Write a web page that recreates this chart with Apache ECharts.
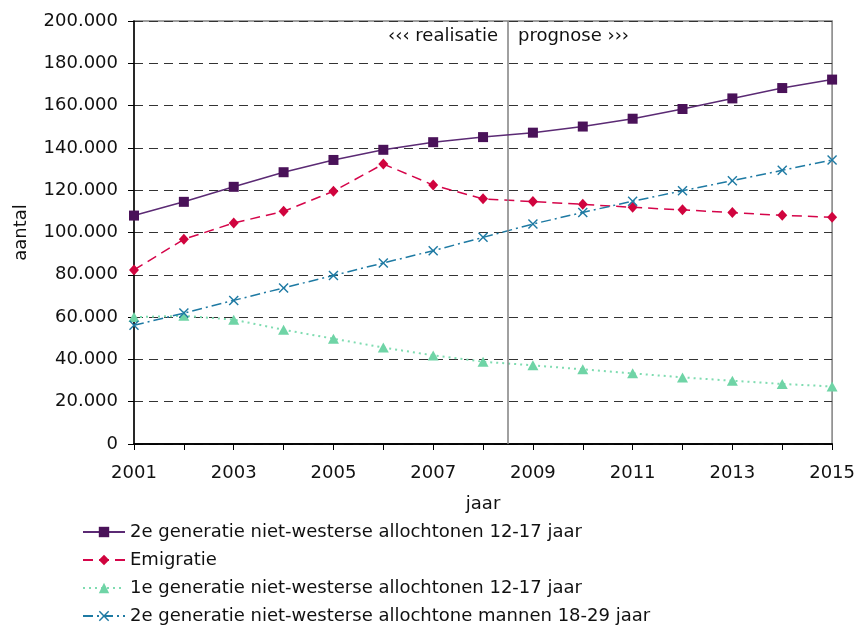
<!DOCTYPE html>
<html><head><meta charset="utf-8">
<script src="https://cdn.jsdelivr.net/npm/echarts@6/dist/echarts.min.js"></script>
<style>html,body{margin:0;padding:0;background:#fff}#c{width:858px;height:625px}</style>
</head><body><div id="c"></div>
<script>
const years = [2001,2002,2003,2004,2005,2006,2007,2008,2009,2010,2011,2012,2013,2014,2015];
const tweedeGen1217 = [108000,114500,121600,128500,134300,139100,142700,145100,147200,150100,153800,158400,163400,168300,172300];
const emigratie = [82300,96800,104500,110000,119500,132400,122400,115900,114600,113300,111900,110700,109400,108100,107200];
const eersteGen1217 = [60000,60600,58800,54000,49800,45600,41900,38900,37200,35300,33400,31500,29900,28400,27200];
const tweedeGenMannen = [56100,61900,67900,73800,79700,85600,91400,97700,104000,109500,114800,119700,124500,129400,134300];
const seriesNames = [
  '2e generatie niet-westerse allochtonen 12-17 jaar',
  'Emigratie',
  '1e generatie niet-westerse allochtonen 12-17 jaar',
  '2e generatie niet-westerse allochtone mannen 18-29 jaar'
];
const splitYear = 2008.5;
const noteLeft = '‹‹‹ realisatie';
const noteRight = 'prognose ›››';

const FONT = 'DejaVu Sans';
const pairs = arr => arr.map((v,i)=>[years[i], v]);
const fmt = v => v === 0 ? '0' : String(v).replace(/\B(?=(\d{3})+(?!\d))/g, '.');
const xSym = 'path://M0,1L1,0L5,4L9,0L10,1L6,5L10,9L9,10L5,6L1,10L0,9L4,5Z';

const chart = echarts.init(document.getElementById('c'), null, {renderer:'canvas'});
const option = {
  animation:false,
  textStyle:{fontFamily:FONT},
  grid:{left:134, right:24, top:21, bottom:181, show:true, borderColor:'#808080', borderWidth:1.5},
  legend:{
    orient:'vertical', left:82, top:523, height:102, padding:0,
    itemWidth:42, itemHeight:13, itemGap:10,
    textStyle:{fontFamily:FONT, fontSize:18, color:'#111'},
    data:seriesNames
  },
  xAxis:[{
    type:'value', min:2001, max:2015, interval:1,
    name:'jaar', nameLocation:'middle', nameGap:51,
    nameTextStyle:{fontFamily:FONT, fontSize:18, color:'#111'},
    axisLine:{show:true, onZero:false, lineStyle:{color:'#000', width:1.5}},
    axisTick:{show:true, length:6, lineStyle:{color:'#000'}},
    axisLabel:{margin:20, fontFamily:FONT, fontSize:18, color:'#111',
      formatter:v => ((v-2001)%2===0 ? String(v) : '')},
    splitLine:{show:false}
  },{
    type:'value', min:2001, max:2015, position:'top',
    axisLine:{show:true, lineStyle:{color:'#000', width:1.5}},
    axisTick:{show:false}, axisLabel:{show:false}, splitLine:{show:false}
  }],
  yAxis:{
    type:'value', min:0, max:200000, interval:20000,
    name:'aantal', nameLocation:'middle', nameGap:104,
    nameTextStyle:{fontFamily:FONT, fontSize:18, color:'#111'},
    axisLine:{show:true, lineStyle:{color:'#000', width:1.5}},
    axisTick:{show:true, length:6, lineStyle:{color:'#000'}},
    axisLabel:{margin:16, fontFamily:FONT, fontSize:18, color:'#111', formatter:fmt},
    splitLine:{show:true, lineStyle:{color:'#333', type:[9,6], width:1.2}}
  },
  series:[
    {name:seriesNames[0], type:'line', data:pairs(tweedeGen1217), symbol:'rect', symbolSize:10,
     lineStyle:{color:'#5b2a74', width:1.5, type:'solid'}, itemStyle:{color:'#4a1259'}, z:5,
     markLine:{silent:true, symbol:'none', label:{show:false},
       lineStyle:{color:'#808080', width:1.5, type:'solid'}, data:[{xAxis:splitYear}]}},
    {name:seriesNames[1], type:'line', data:pairs(emigratie), symbol:'diamond', symbolSize:[10,11],
     lineStyle:{color:'#d5054a', width:1.5, type:[10,6]}, itemStyle:{color:'#d0043e'}, z:4},
    {name:seriesNames[2], type:'line', data:pairs(eersteGen1217), symbol:'triangle', symbolSize:[11,10],
     lineStyle:{color:'#7fdcb1', width:2, type:[2,4]}, itemStyle:{color:'#6fd4a6'}, z:3},
    {name:seriesNames[3], type:'line', data:pairs(tweedeGenMannen), symbol:xSym, symbolSize:10,
     lineStyle:{color:'#1e7aa3', width:1.5, type:[10,4,2,4]}, itemStyle:{color:'#1e7aa3'}, z:4}
  ]
};
chart.setOption(option);
const p = chart.convertToPixel({xAxisIndex:0, yAxisIndex:0}, [splitYear, 200000]);
chart.setOption({graphic:[
  {type:'text', id:'l', x:p[0]-10, y:p[1]+15, style:{text:noteLeft, font:'18px "DejaVu Sans"', fill:'#111', textAlign:'right', textVerticalAlign:'middle'}},
  {type:'text', id:'r', x:p[0]+10, y:p[1]+15, style:{text:noteRight, font:'18px "DejaVu Sans"', fill:'#111', textAlign:'left', textVerticalAlign:'middle'}}
]});
</script></body></html>
